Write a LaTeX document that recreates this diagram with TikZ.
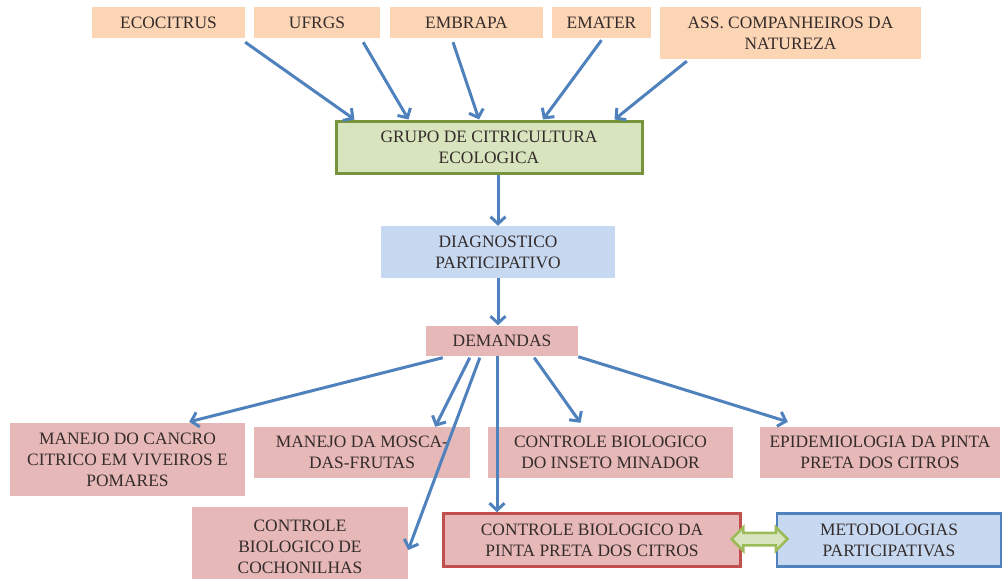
\documentclass[tikz,border=0pt]{standalone}
\usepackage{fontspec}
\setmainfont{Liberation Serif}
\usetikzlibrary{arrows.meta,shapes.arrows}

\definecolor{peach}{HTML}{FCD5B5}
\definecolor{rose}{HTML}{E6B9B8}
\definecolor{leaf}{HTML}{D7E4BD}
\definecolor{leafdark}{HTML}{77933C}
\definecolor{leafmid}{HTML}{9BBB59}
\definecolor{sky}{HTML}{C6D9F1}
\definecolor{skydark}{HTML}{4F81BD}
\definecolor{brick}{HTML}{C0504D}
\definecolor{ink}{HTML}{342B2B}

\tikzset{
  box/.style={inner sep=2pt, align=center, text=ink, font=\fontsize{17.4}{21}\selectfont},
  orgbox/.style={box, fill=peach},
  demand/.style={box, fill=rose},
  flow/.style={draw=skydark, line width=3pt, -{Straight Barb[length=7pt,width=15pt]}}
}

\begin{document}
\begin{tikzpicture}[x=1pt, y=-1pt]

    \clip (0,0) rectangle (1003,578);

    % Partner institutions along the top
    \node[orgbox, minimum width=153pt, minimum height=31pt] (eco) at (168.5,22.5) {ECOCITRUS};
    \node[orgbox, minimum width=126pt, minimum height=31pt] (ufrgs) at (317,22.5) {UFRGS};
    \node[orgbox, minimum width=153pt, minimum height=31pt] (embrapa) at (466.5,22.5) {EMBRAPA};
    \node[orgbox, minimum width=99pt, minimum height=31pt] (emater) at (601.5,22.5) {EMATER};
    \node[orgbox, minimum width=261pt, minimum height=52pt] (ass) at (790.5,33) {ASS. COMPANHEIROS DA\\NATUREZA};

    % Central group
    \node[box, fill=leaf, draw=leafdark, line width=3pt, minimum width=306pt, minimum height=52pt] (grupo) at (489,147) {GRUPO DE CITRICULTURA\\ECOLOGICA};
    \node[box, fill=sky, minimum width=234pt, minimum height=52pt] (diag) at (498,252) {DIAGNOSTICO\\PARTICIPATIVO};
    \node[demand, minimum width=152pt, minimum height=30pt] (dem) at (502,340.5) {DEMANDAS};

    % Demands
    \node[demand, minimum width=235pt, minimum height=73pt] (cancro) at (127.5,459.5) {MANEJO DO CANCRO\\CITRICO EM VIVEIROS E\\POMARES};
    \node[demand, minimum width=216pt, minimum height=51pt] (mosca) at (362,452.5) {MANEJO DA MOSCA-\\DAS-FRUTAS};
    \node[demand, minimum width=245pt, minimum height=51pt] (minador) at (610.5,452.5) {CONTROLE BIOLOGICO\\DO INSETO MINADOR};
    \node[demand, minimum width=240pt, minimum height=51pt] (epi) at (880,452.5) {EPIDEMIOLOGIA DA PINTA\\PRETA DOS CITROS};
    \node[demand, minimum width=216pt, minimum height=80pt] (coch) at (300,547) {CONTROLE\\BIOLOGICO DE\\COCHONILHAS};
    \node[demand, draw=brick, line width=2.5pt, minimum width=297pt, minimum height=53pt] (pinta) at (592,540) {CONTROLE BIOLOGICO DA\\PINTA PRETA DOS CITROS};
    \node[box, fill=sky, draw=skydark, line width=2.5pt, minimum width=224pt, minimum height=53pt] (metod) at (889,540) {METODOLOGIAS\\PARTICIPATIVAS};

    % Two-way link between the last two boxes
    \node[double arrow, fill=leaf, draw=leafmid, line width=2.5pt, inner sep=5pt, minimum height=56pt, minimum width=21pt, double arrow head extend=5.5pt] (link) at (759.5,539) {};

    % Arrows into the group
    \draw[flow] ([yshift=-4pt]eco.south east) -- ([xshift=20pt]grupo.north west);
    \draw[flow] ([xshift=-17pt,yshift=-4pt]ufrgs.south east) -- ([xshift=74pt]grupo.north west);
    \draw[flow] ([xshift=-13.5pt,yshift=-4pt]embrapa.south) -- ([xshift=-10pt]grupo.north);
    \draw[flow] ([yshift=-2pt]emater.south) -- ([xshift=54pt]grupo.north);
    \draw[flow] ([xshift=27pt,yshift=-2pt]ass.south west) -- ([xshift=-29pt]grupo.north east);

    % Down the middle
    \draw[flow] (diag.north |- grupo.south) -- (diag.north);
    \draw[flow] (diag.south) -- (diag.south |- dem.north);

    % Arrows out of the demands
    \draw[flow] ([xshift=17pt,yshift=-2pt]dem.south west) -- ([xshift=-56pt,yshift=1pt]cancro.north east);
    \draw[flow] ([xshift=44pt,yshift=-2pt]dem.south west) -- ([xshift=-35pt]mosca.north east);
    \draw[flow] ([xshift=54pt,yshift=-2pt]dem.south west) -- ([yshift=-3pt]coch.east);
    \draw[flow] ([xshift=-95pt]pinta.north |- dem.south) -- ([xshift=-95pt]pinta.north);
    \draw[flow] ([xshift=-44pt,yshift=-2pt]dem.south east) -- ([xshift=-30pt,yshift=4pt]minador.north);
    \draw[flow] ([yshift=-1pt]dem.south east) -- ([xshift=28pt,yshift=5pt]epi.north west);

\end{tikzpicture}
\end{document}
